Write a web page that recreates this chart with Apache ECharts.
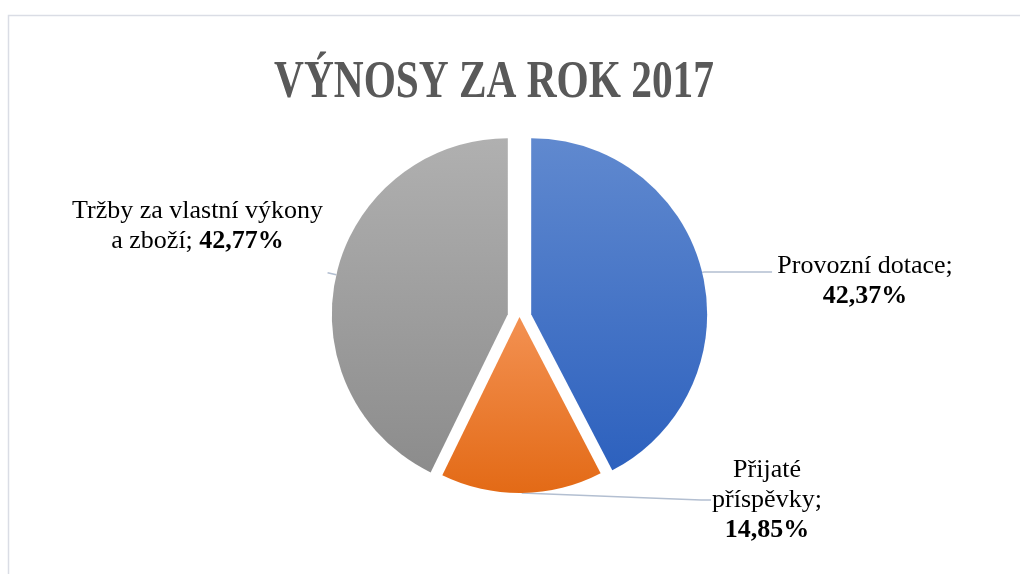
<!DOCTYPE html>
<html>
<head>
<meta charset="utf-8">
<script src="https://cdn.jsdelivr.net/npm/echarts@6/dist/echarts.min.js"></script>
<style>
  html, body { margin: 0; padding: 0; background: #fff; }
  #pie-container { width: 1020px; height: 574px; }
</style>
</head>
<body>
<div id="pie-container"></div>
<script>
// data
var titleText = 'VÝNOSY ZA ROK 2017';
var categories = ['Provozní dotace', 'Přijaté příspěvky', 'Tržby za vlastní výkony a zboží'];
var shares = [42.37, 14.85, 42.77];
// how Excel wrapped the label names
var labelLines = [['Provozní dotace;'], ['Přijaté', 'příspěvky;'], ['Tržby za vlastní výkony', 'a zboží;']];

function grad(top, bottom) {
  return new echarts.graphic.LinearGradient(0, 0, 0, 1, [
    { offset: 0, color: top },
    { offset: 1, color: bottom }
  ]);
}

var fills = [grad('#6089cf', '#2d61be'), grad('#f39152', '#e36a16'), grad('#b0b0b0', '#8c8c8c')];
var exploded = [true, false, true];
// label styling per slice (exploded slices keep the pie's own label placement)
var labelWidth = [182, 112, 256];
var labelPadding = [[18, 0, 0, 0], 0, [0, 0, 92, 0]];
var lineLen = [[2, 68], [10, 10], [9, 0]];
var freeLabelPos = [null, [767, 500], null];

function fmt(v) {
  return v.toFixed(2).replace('.', ',') + '%';
}

var myChart = echarts.init(document.getElementById('pie-container'), null, { renderer: 'canvas' });
myChart.setOption({
  animation: false,
  graphic: [
    {
      type: 'rect',
      shape: { x: 8.5, y: 15.5, width: 1100, height: 700 },
      style: { fill: 'none', stroke: '#dadde5', lineWidth: 1.5 },
      silent: true
    },
    {
      type: 'text',
      x: 494,
      y: 83,
      scaleX: 0.78,
      style: {
        text: titleText,
        x: 0,
        y: 0,
        align: 'center',
        verticalAlign: 'middle',
        font: 'bold 53px "Liberation Serif"',
        fill: '#595959'
      },
      silent: true
    }
  ],
  series: [
    {
      type: 'pie',
      center: [519.5, 317],
      radius: 176,
      startAngle: 90,
      clockwise: true,
      selectedMode: 'multiple',
      selectedOffset: 12,
      emphasis: { disabled: true },
      data: categories.map(function (name, i) {
        return {
          name: name,
          value: shares[i],
          selected: exploded[i],
          itemStyle: { color: fills[i] },
          label: { width: labelWidth[i], padding: labelPadding[i] },
          labelLine: { length: lineLen[i][0], length2: lineLen[i][1] }
        };
      }),
      label: {
        show: true,
        position: 'outside',
        alignTo: 'none',
        distanceToLabelLine: 2,
        fontFamily: '"Liberation Serif"',
        fontSize: 26,
        lineHeight: 30,
        color: '#000',
        formatter: function (p) {
          var lines = labelLines[p.dataIndex].map(function (t) { return '{n|' + t + '}'; });
          var pct = '{b|' + fmt(p.value) + '}';
          if (p.dataIndex === 2) {
            lines[lines.length - 1] += ' ' + pct;
          } else {
            lines.push(pct);
          }
          return lines.join('\n');
        },
        rich: {
          n: { fontFamily: '"Liberation Serif"', fontSize: 26, lineHeight: 30, color: '#000', align: 'center' },
          b: { fontFamily: '"Liberation Serif"', fontSize: 26, lineHeight: 30, fontWeight: 'bold', color: '#000', align: 'center' }
        }
      },
      labelLine: {
        show: true,
        lineStyle: { color: '#b3bfd1', width: 1.5 }
      },
      labelLayout: function (params) {
        var pos = freeLabelPos[params.dataIndex];
        if (!pos) return {};
        return { x: pos[0], y: pos[1], align: 'center', verticalAlign: 'middle' };
      }
    }
  ]
});
</script>
</body>
</html>
